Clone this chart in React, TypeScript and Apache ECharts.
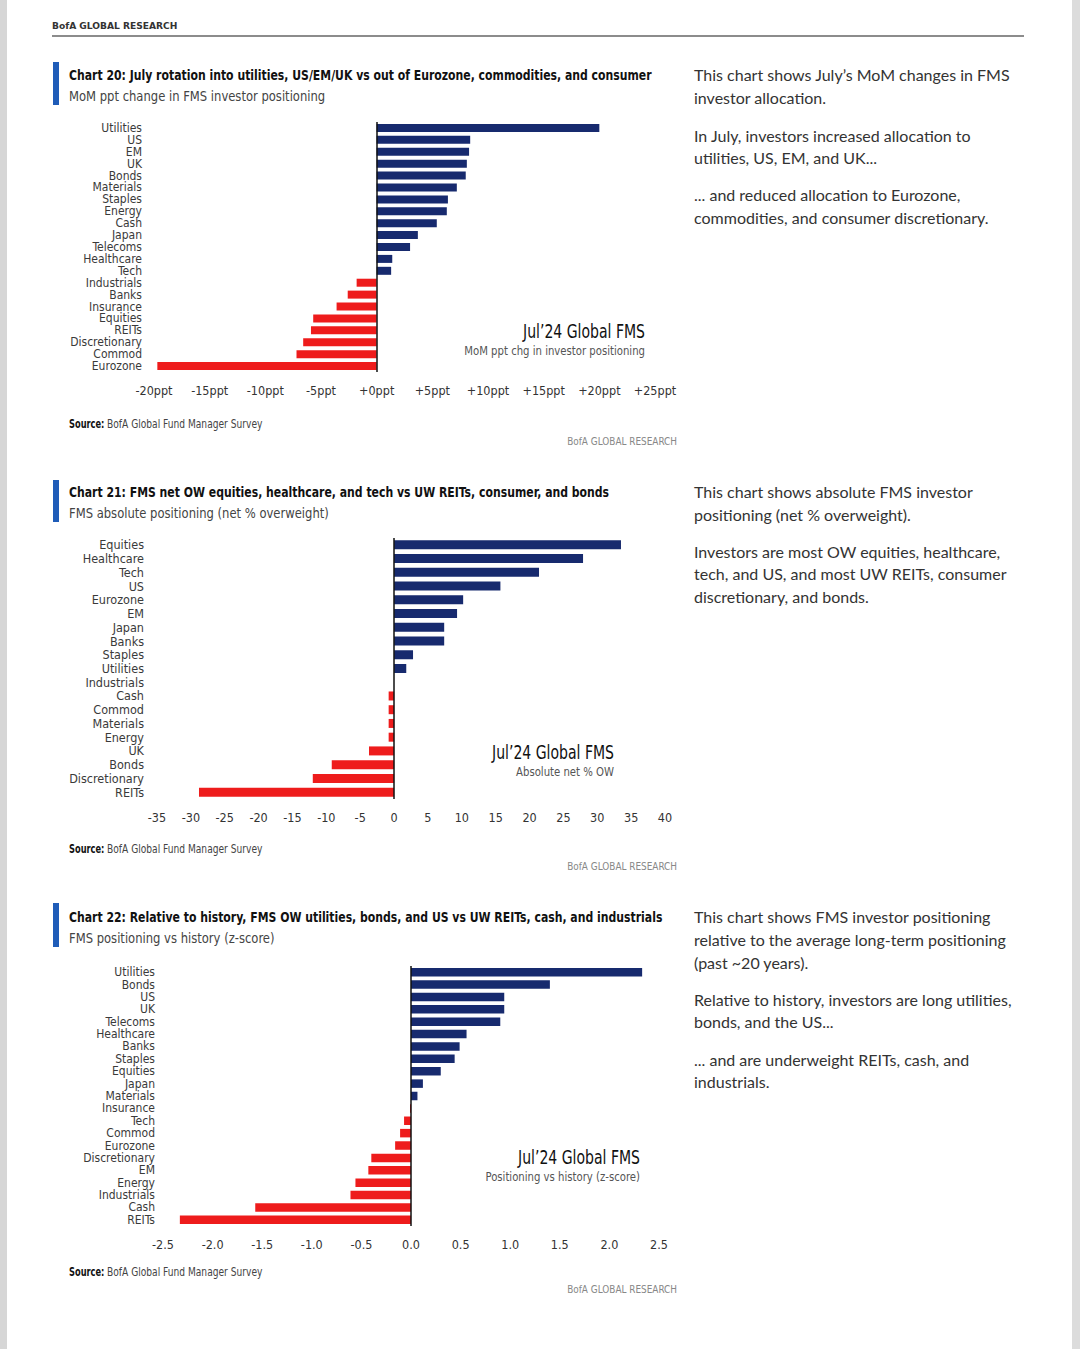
import React, { useEffect, useRef } from "react";
import * as echarts from "echarts";

// ---------- DATA ----------
const c1Categories = ["Utilities","US","EM","UK","Bonds","Materials","Staples","Energy","Cash","Japan","Telecoms","Healthcare","Tech","Industrials","Banks","Insurance","Equities","REITs","Discretionary","Commod","Eurozone"];
const c1Values = [20.0, 8.4, 8.3, 8.1, 8.0, 7.2, 6.4, 6.3, 5.4, 3.7, 3.0, 1.4, 1.3, -1.8, -2.6, -3.6, -5.7, -5.9, -6.6, -7.2, -19.7];

const c2Categories = ["Equities","Healthcare","Tech","US","Eurozone","EM","Japan","Banks","Staples","Utilities","Industrials","Cash","Commod","Materials","Energy","UK","Bonds","Discretionary","REITs"];
const c2Values = [33.5, 27.9, 21.4, 15.7, 10.2, 9.3, 7.4, 7.4, 2.8, 1.8, 0, -0.8, -0.8, -0.8, -0.8, -3.7, -9.2, -12.0, -28.8];

const c3Categories = ["Utilities","Bonds","US","UK","Telecoms","Healthcare","Banks","Staples","Equities","Japan","Materials","Insurance","Tech","Commod","Eurozone","Discretionary","EM","Energy","Industrials","Cash","REITs"];
const c3Values = [2.33, 1.40, 0.94, 0.94, 0.90, 0.56, 0.49, 0.44, 0.30, 0.12, 0.065, -0.01, -0.07, -0.11, -0.16, -0.40, -0.43, -0.56, -0.61, -1.57, -2.33];

const c1Ticks = { min: -20, max: 25, interval: 5 };
const c2Ticks = { min: -35, max: 40, interval: 5 };
const c3Ticks = { min: -2.5, max: 2.5, interval: 0.5 };

const titles = [
  "Chart 20: July rotation into utilities, US/EM/UK vs out of Eurozone, commodities, and consumer",
  "Chart 21: FMS net OW equities, healthcare, and tech vs UW REITs, consumer, and bonds",
  "Chart 22: Relative to history, FMS OW utilities, bonds, and US vs UW REITs, cash, and industrials",
];
const subtitles = [
  "MoM ppt change in FMS investor positioning",
  "FMS absolute positioning (net % overweight)",
  "FMS positioning vs history (z-score)",
];
const annoSubs = [
  "MoM ppt chg in investor positioning",
  "Absolute net % OW",
  "Positioning vs history (z-score)",
];
const sideText = [
  [["This chart shows July\u2019s MoM changes in FMS", "investor allocation."], ["In July, investors increased allocation to", "utilities, US, EM, and UK..."], ["... and reduced allocation to Eurozone,", "commodities, and consumer discretionary."]],
  [["This chart shows absolute FMS investor", "positioning (net % overweight)."], ["Investors are most OW equities, healthcare,", "tech, and US, and most UW REITs, consumer", "discretionary, and bonds."]],
  [["This chart shows FMS investor positioning", "relative to the average long-term positioning", "(past ~20 years)."], ["Relative to history, investors are long utilities,", "bonds, and the US..."], ["... and are underweight REITs, cash, and", "industrials."]],
];

// ---------- STYLE ----------
const NAVY = "#172a6e";
const RED = "#ee1c1c";
const FONT_C = "'Liberation Sans Narrow', 'DejaVu Sans Condensed', 'Roboto Condensed', sans-serif";
const FONT_S = "Lato, 'Noto Sans', sans-serif";

function barData(vals: number[]) {
  return vals.map((v) => ({ value: v, itemStyle: { color: v >= 0 ? NAVY : RED } }));
}

function txt(x: number, y: number, text: string, font: string, fill: string, align = "left", scaleX = 1) {
  return {
    type: "text",
    x,
    y,
    scaleX,
    style: { text, x: 0, y: 0, font, fill, textAlign: align, textVerticalAlign: "middle" },
  };
}

export default function App() {
  const ref = useRef<HTMLDivElement>(null);
  useEffect(() => {
    if (!ref.current) return;
    const chart = echarts.init(ref.current, null, { renderer: "svg" });

    const grids = [
      { left: 154, top: 122, width: 501, height: 250 },
      { left: 157, top: 538, width: 508, height: 261 },
      { left: 163, top: 966, width: 496, height: 260 },
    ];
    const cats = [c1Categories, c2Categories, c3Categories];
    const vals = [c1Values, c2Values, c3Values];
    const ticks = [c1Ticks, c2Ticks, c3Ticks];
    const fmts = [
      (v: number) => (v > 0 ? "+" + v : v === 0 ? "+0" : String(v)) + "ppt",
      (v: number) => String(v),
      (v: number) => v.toFixed(1),
    ];
    const labelMargins = [12, 13, 8];
    const labelSizes = [12, 12.5, 12];
    const barWidths = [8, 9, 8.5];

    const xAxis = ticks.map((t, i) => ({
      type: "value",
      gridIndex: i,
      min: t.min,
      max: t.max,
      interval: t.interval,
      axisLine: { show: false },
      axisTick: { show: false },
      splitLine: { show: false },
      axisLabel: {
        formatter: fmts[i],
        fontFamily: FONT_C,
        fontSize: 12.5,
        color: "#333",
        margin: 12,
      },
    }));
    const yAxis = cats.map((c, i) => ({
      type: "category",
      gridIndex: i,
      data: c,
      inverse: true,
      axisLine: { show: false },
      axisTick: { show: false },
      splitLine: { show: false },
      axisLabel: {
        interval: 0,
        fontFamily: FONT_C,
        fontSize: labelSizes[i],
        lineHeight: 11,
        color: "#3a3a3a",
        margin: labelMargins[i],
      },
    }));
    const series = vals.map((v, i) => ({
      type: "bar",
      xAxisIndex: i,
      yAxisIndex: i,
      data: barData(v),
      barWidth: barWidths[i],
      markLine: {
        silent: true,
        symbol: ["none", "none"],
        label: { show: false },
        lineStyle: { color: "#111", width: 1.5, type: "solid" },
        data: [{ xAxis: 0 }],
      },
    }));

    const g: any[] = [];
    // page side shading
    g.push({ type: "rect", shape: { x: 0, y: 0, width: 7, height: 1349 }, style: { fill: "#d6d6d6" } });
    g.push({ type: "rect", shape: { x: 1072, y: 0, width: 8, height: 1349 }, style: { fill: "#dcdcdc" } });
    // header
    g.push(txt(52, 25, "BofA GLOBAL RESEARCH", "bold 9.5px 'DejaVu Sans', sans-serif", "#333", "left", 0.96));
    g.push({ type: "line", shape: { x1: 52, y1: 36, x2: 1024, y2: 36 }, style: { stroke: "#666", lineWidth: 1.5 } });

    const blocks = [
      { accTop: 62, accBot: 105, titleY: 75, subY: 96, annoX: 645, annoY: 331, srcY: 424, bofaY: 441, side: [[74, 97], [135, 157], [194, 217]] },
      { accTop: 480, accBot: 522, titleY: 492, subY: 513, annoX: 614, annoY: 752, srcY: 849, bofaY: 866, side: [[491, 514], [551, 573, 596]] },
      { accTop: 903, accBot: 947, titleY: 917, subY: 938, annoX: 640, annoY: 1157, srcY: 1272, bofaY: 1289, side: [[916, 939, 962], [999, 1021], [1059, 1081]] },
    ];
    blocks.forEach((b, i) => {
      g.push({ type: "rect", shape: { x: 53, y: b.accTop, width: 6, height: b.accBot - b.accTop }, style: { fill: "#1f5cb8" } });
      g.push(txt(69, b.titleY, titles[i], `bold 14.5px ${FONT_C}`, "#111", "left", 0.835));
      g.push(txt(69, b.subY, subtitles[i], `14px ${FONT_C}`, "#444", "left", 0.92));
      g.push(txt(b.annoX, b.annoY, "Jul\u201924 Global FMS", `20px ${FONT_C}`, "#111", "right", 0.78));
      g.push(txt(b.annoX, b.annoY + 20, annoSubs[i], `12.5px ${FONT_C}`, "#555", "right", 0.9));
      g.push(txt(69, b.srcY, "Source:", `bold 11.5px ${FONT_C}`, "#111", "left", 0.8));
      g.push(txt(107, b.srcY, "BofA Global Fund Manager Survey", `11.5px ${FONT_C}`, "#444", "left", 0.88));
      g.push(txt(677, b.bofaY, "BofA GLOBAL RESEARCH", `11px ${FONT_C}`, "#888", "right", 0.9));
      sideText[i].forEach((para, p) => {
        para.forEach((line, l) => {
          g.push(txt(694, b.side[p][l], line, `16px ${FONT_S}`, "#333"));
        });
      });
    });

    chart.setOption({
      animation: false,
      backgroundColor: "#ffffff",
      grid: grids,
      xAxis,
      yAxis,
      series,
      graphic: g,
    });
    return () => chart.dispose();
  }, []);

  return (
    <div
      ref={ref}
      style={{ position: "absolute", left: 0, top: 0, width: 1080, height: 1349 }}
    />
  );
}
